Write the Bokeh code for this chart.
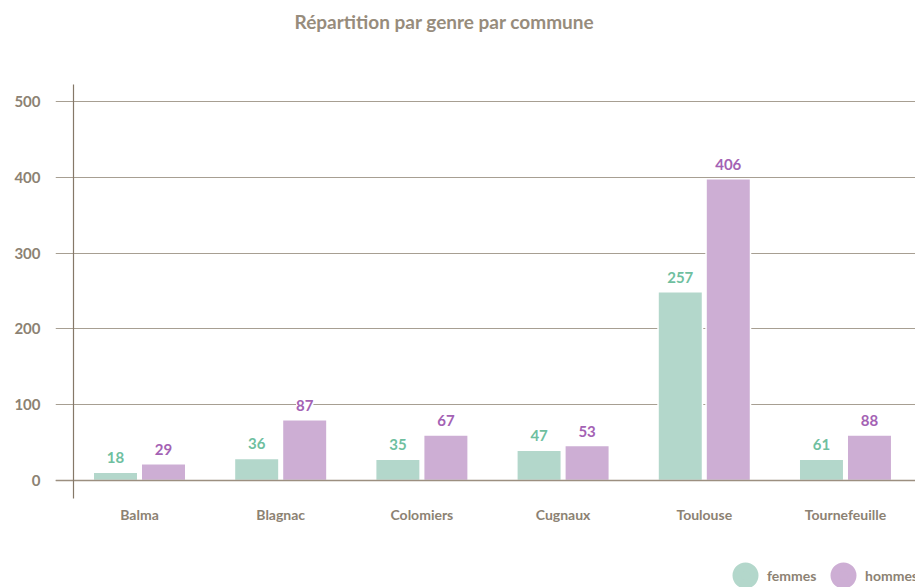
from bokeh.plotting import figure
from bokeh.models import (ColumnDataSource, Range1d, FixedTicker, LabelSet, Label,
                          Legend, LegendItem, LinearAxis)
from bokeh.core.properties import value
from bokeh.embed import file_html
from bokeh.resources import INLINE

# ---- data ----
communes = ["Balma", "Blagnac", "Colomiers", "Cugnaux", "Toulouse", "Tournefeuille"]
femmes_bar = [11, 29, 28, 40, 249, 28]
hommes_bar = [22, 80, 60, 46, 398, 60]
femmes_label = [18, 36, 35, 47, 257, 61]
hommes_label = [29, 87, 67, 53, 406, 88]
y_ticks = [0, 100, 200, 300, 400, 500]
series_names = ["femmes", "hommes"]
title_text = "Répartition par genre par commune"

FONT = "Lato"
TXT = "#8c8273"
GRID = "#a79f92"
F_BAR, H_BAR = "#b3d7cb", "#cdaed4"
F_TXT, H_TXT = "#6fbf9f", "#a462b4"

idx = list(range(len(communes)))
dodge = 0.17
src_f = ColumnDataSource(dict(x=[i - dodge for i in idx], top=femmes_bar,
                              lab=[str(v) for v in femmes_label]))
src_h = ColumnDataSource(dict(x=[i + dodge for i in idx], top=hommes_bar,
                              lab=[str(v) for v in hommes_label]))

p = figure(width=915, height=587, output_backend="svg", toolbar_location=None,
           x_range=Range1d(-0.595, 5.496), y_range=Range1d(-141.2, 633.2),
           min_border_left=55, min_border_right=0, min_border_top=0,
           min_border_bottom=0, x_axis_location=None)
p.outline_line_color = None
p.background_fill_color = "white"
p.border_fill_color = "white"

# grid
p.xgrid.grid_line_color = None
p.ygrid.grid_line_color = GRID
p.ygrid.grid_line_width = 1.2
p.yaxis.ticker = FixedTicker(ticks=y_ticks)


def style(ax, size="14px"):
    ax.axis_line_color = None
    ax.major_tick_line_color = None
    ax.minor_tick_line_color = None
    ax.major_label_text_font = FONT
    ax.major_label_text_font_style = "bold"
    ax.major_label_text_color = TXT
    ax.major_label_text_font_size = size


style(p.yaxis[0], "15px")
p.yaxis.major_label_standoff = 9

# category axis placed at zero
xax = LinearAxis(ticker=FixedTicker(ticks=idx), fixed_location=0,
                 major_label_overrides={i: c for i, c in zip(idx, communes)})
style(xax, "14px")
xax.major_label_standoff = 20
p.add_layout(xax, "below")

# vertical axis line (bounded)
vline = LinearAxis(fixed_location=-0.467, bounds=(-23.7, 522.5),
                   ticker=FixedTicker(ticks=[]), axis_line_color="#857868",
                   axis_line_width=1.2, major_tick_line_color=None,
                   minor_tick_line_color=None, major_label_text_font_size="0px")
p.add_layout(vline, "left")

# bars
p.vbar(x="x", top="top", width=0.315, bottom=0, source=src_f, fill_color=F_BAR,
       line_color="white", line_width=1.5)
p.vbar(x="x", top="top", width=0.315, bottom=0, source=src_h, fill_color=H_BAR,
       line_color="white", line_width=1.5)

# zero line
zline = LinearAxis(fixed_location=0, ticker=FixedTicker(ticks=[]),
                   axis_line_color="#9c8f80", axis_line_width=1.5,
                   major_tick_line_color=None, minor_tick_line_color=None,
                   major_label_text_font_size="0px")
p.add_layout(zline, "below")

# value labels
for src, col in ((src_f, F_TXT), (src_h, H_TXT)):
    p.add_layout(LabelSet(x="x", y="top", text="lab", source=src, y_offset=9,
                          text_align="center", text_baseline="bottom",
                          text_font=value(FONT), text_font_size="15px",
                          text_font_style="bold", text_color=col,
                          background_fill_color="white"))

# title
p.add_layout(Label(x=389, y=566, x_units="screen", y_units="screen", text=title_text,
                   text_align="center", text_baseline="middle", text_font=FONT,
                   text_font_style="bold", text_font_size="19px", text_color="#978c7c"))

# legend (one per item); the glyph sources hold no visible point
nan = float("nan")
r_f = p.scatter(x=[nan], y=[nan], fill_color=F_BAR, line_color=F_BAR, line_width=8.4)
r_h = p.scatter(x=[nan], y=[nan], fill_color=H_BAR, line_color=H_BAR, line_width=8.4)
for r, lab, loc in ((r_f, series_names[0], (668, -10)), (r_h, series_names[1], (766, -10))):
    lg = Legend(items=[LegendItem(label=lab, renderers=[r])], location=loc,
                glyph_width=44, glyph_height=44, label_standoff=0, padding=0,
                margin=0, border_line_color=None, background_fill_alpha=0,
                label_text_font=FONT, label_text_font_style="bold",
                label_text_font_size="14px", label_text_color=TXT)
    p.add_layout(lg, "center")

open("out.html", "w").write(file_html(p, INLINE))
